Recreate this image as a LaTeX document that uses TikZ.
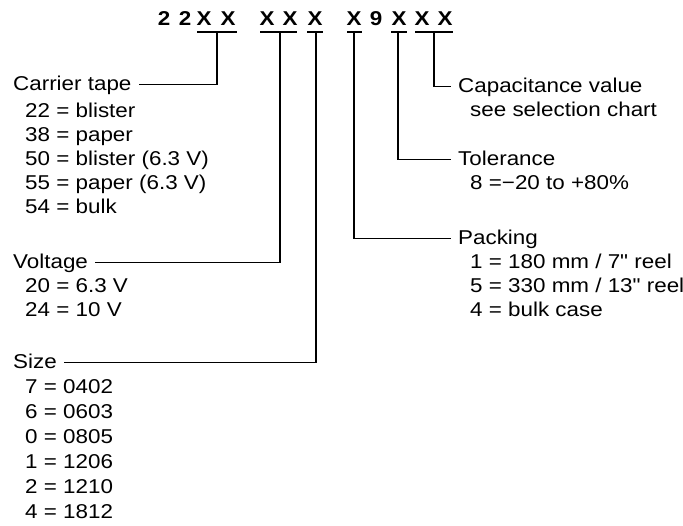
\documentclass[tikz,border=0pt]{standalone}
\usepackage{fontspec}
\setmainfont[FakeStretch=1.12]{Liberation Sans}
\newfontfamily\plainq[FakeStretch=1.12]{Liberation Sans}
\newcommand\dfs{\fontsize{20}{24}\selectfont}
\newcommand\dfb{\fontsize{20}{24}\selectfont\bfseries}
\newcommand\inch{{\plainq\symbol{34}}}
\begin{document}
\dfs
\begin{tikzpicture}[x=1pt,y=-1pt,
  head/.style={anchor=base west, inner xsep=7pt, inner ysep=0pt, text height=11pt, text depth=0pt, font=\dfs},
  item/.style={anchor=base west, inner sep=0pt, font=\dfs},
  codechar/.style={anchor=base, inner sep=0pt, font=\dfb},
  conn/.style={line width=1.3pt, black},
  uline/.style={line width=1.8pt, black}]
\useasboundingbox (0,0) rectangle (683,525);
% code characters
\foreach \n/\x/\c in {c1/164/2,c2/185/2,c3/204/X,c4/228/X,c5/267/X,c6/290/X,c7/315/X,c8/354/X,c9/376/9,c10/399/X,c11/422/X,c12/445/X}
  \node[codechar] (\n) at (\x,25) {\c};
% underlines
\coordinate (a1) at (197,32); \coordinate (b1) at (237,32);
\coordinate (a2) at (260,32); \coordinate (b2) at (297,32);
\coordinate (a3) at (307,32); \coordinate (b3) at (323,32);
\coordinate (a4) at (347,32); \coordinate (b4) at (362,32);
\coordinate (a5) at (391,32); \coordinate (b5) at (407,32);
\coordinate (a6) at (415,32); \coordinate (b6) at (453,32);
\foreach \i in {1,...,6} \draw[uline] (a\i) -- (b\i);
\coordinate (u1) at (217,32);
\coordinate (u2) at (280,32);
\coordinate (u3) at (316,32);
\coordinate (u4) at (354,32);
\coordinate (u5) at (398,32);
\coordinate (u6) at (434,32);
% left headings
\node[head] (carrier) at (6,90) {Carrier tape};
\node[item] (ct1) at (25,117) {22 = blister};
\node[item] (ct2) at (25,141) {38 = paper};
\node[item] (ct3) at (25,165) {50 = blister (6.3 V)};
\node[item] (ct4) at (25,189) {55 = paper (6.3 V)};
\node[item] (ct5) at (25,213) {54 = bulk};
\node[head] (volt) at (6,268) {Voltage};
\node[item] (v1) at (25,292) {20 = 6.3 V};
\node[item] (v2) at (25,316) {24 = 10 V};
\node[head] (size) at (6,368) {Size};
\node[item] (s1) at (25,393) {7 = 0402};
\node[item] (s2) at (25,418) {6 = 0603};
\node[item] (s3) at (25,443) {0 = 0805};
\node[item] (s4) at (25,468) {1 = 1206};
\node[item] (s5) at (25,493) {2 = 1210};
\node[item] (s6) at (25,518) {4 = 1812};
% right headings
\node[head] (cap) at (451,92) {Capacitance value};
\node[item] (cap1) at (470,116) {see selection chart};
\node[head] (tol) at (451,165) {Tolerance};
\node[item] (tol1) at (470,189) {8 =−20 to +80\%};
\node[head] (pack) at (451,244) {Packing};
\node[item] (p1) at (470,268) {1 = 180 mm / 7\inch{} reel};
\node[item] (p2) at (470,292) {5 = 330 mm / 13\inch{} reel};
\node[item] (p3) at (470,316) {4 = bulk case};
% connectors
\draw[conn] (u1) |- (carrier.east);
\draw[conn] (u2) |- (volt.east);
\draw[conn] (u3) |- (size.east);
\draw[conn] (u4) |- (pack.west);
\draw[conn] (u5) |- (tol.west);
\draw[conn] (u6) |- (cap.west);
\end{tikzpicture}
\end{document}
